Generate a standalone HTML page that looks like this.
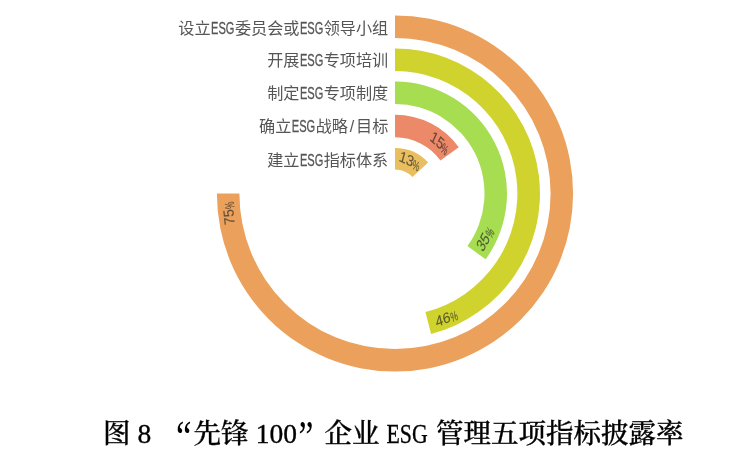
<!DOCTYPE html>
<html lang="zh-CN"><head><meta charset="utf-8"><title>图 8 “先锋 100”企业 ESG 管理五项指标披露率</title>
<style>
html,body{margin:0;padding:0;background:#fff;}
body{width:731px;height:465px;overflow:hidden;position:relative;}
svg{position:absolute;left:0;top:0;display:block;}
text{dominant-baseline:central;}
.lab{font-family:"Liberation Sans","Noto Sans CJK SC",sans-serif;font-size:16.15px;fill:#555;}
.pct{font-family:"Liberation Sans",sans-serif;font-size:14.5px;fill:#262626;fill-opacity:.68;stroke:#262626;stroke-opacity:.25;stroke-width:.3px;}
.pc{font-size:13px;}
.lat{stroke:#555;stroke-width:.3px;}
.title.q{font-size:44px;dominant-baseline:alphabetic;font-weight:400;stroke:none;}
.title{font-family:"Liberation Serif","Noto Serif CJK SC",serif;font-size:27.5px;fill:#000;font-weight:500;stroke:#000;stroke-width:.3px;}
</style></head><body>
<svg width="731" height="465" viewBox="0 0 731 465">
<defs>
<filter id="soft" x="-5%" y="-5%" width="110%" height="110%"><feGaussianBlur stdDeviation="0.45"/></filter>
<filter id="soft2" x="-5%" y="-20%" width="110%" height="140%"><feGaussianBlur stdDeviation="0.3"/></filter>
</defs>
<rect width="731" height="465" fill="#fff"/>
<g id="chart" filter="url(#soft)">
<g id="bars">
<path d="M395.00 15.40A178.1 178.1 0 1 1 216.90 193.50L239.40 193.50A155.6 155.6 0 1 0 395.00 37.90Z" fill="#eba15b"/>
<path d="M395.00 48.50A145.0 145.0 0 0 1 431.06 333.94L425.44 312.05A122.4 122.4 0 0 0 395.00 71.10Z" fill="#d0d32e"/>
<path d="M395.00 81.50A112.0 112.0 0 0 1 485.61 259.33L467.41 246.11A89.5 89.5 0 0 0 395.00 104.00Z" fill="#a6dd51"/>
<path d="M395.00 114.70A78.8 78.8 0 0 1 458.75 147.18L440.47 160.47A56.2 56.2 0 0 0 395.00 137.30Z" fill="#ec8968"/>
<path d="M395.00 148.10A45.4 45.4 0 0 1 428.10 162.42L412.50 177.07A24.0 24.0 0 0 0 395.00 169.50Z" fill="#e8be5f"/>
</g>
<g id="labels">
<text x="178.35" y="28.4" class="lab">设立</text>
<text x="211.05" y="28.4" class="lab lat" textLength="23.42" lengthAdjust="spacingAndGlyphs">ESG</text>
<text x="234.88" y="28.4" class="lab">委员会或</text>
<text x="299.88" y="28.4" class="lab lat" textLength="23.42" lengthAdjust="spacingAndGlyphs">ESG</text>
<text x="323.70" y="28.4" class="lab">领导小组</text>
<text x="267.18" y="59.8" class="lab">开展</text>
<text x="299.88" y="59.8" class="lab lat" textLength="23.42" lengthAdjust="spacingAndGlyphs">ESG</text>
<text x="323.70" y="59.8" class="lab">专项培训</text>
<text x="267.18" y="93.0" class="lab">制定</text>
<text x="299.88" y="93.0" class="lab lat" textLength="23.42" lengthAdjust="spacingAndGlyphs">ESG</text>
<text x="323.70" y="93.0" class="lab">专项制度</text>
<text x="259.10" y="126.2" class="lab">确立</text>
<text x="291.80" y="126.2" class="lab lat" textLength="23.42" lengthAdjust="spacingAndGlyphs">ESG</text>
<text x="315.63" y="126.2" class="lab">战略</text>
<text x="351.96" y="126.2" class="lab" text-anchor="middle">/</text>
<text x="356.00" y="126.2" class="lab">目标</text>
<text x="267.18" y="159.6" class="lab">建立</text>
<text x="299.88" y="159.6" class="lab lat" textLength="23.42" lengthAdjust="spacingAndGlyphs">ESG</text>
<text x="323.70" y="159.6" class="lab">指标体系</text>
</g>
<g id="values">
<g transform="translate(229.0 212.9) rotate(-96.7)"><text transform="translate(-12.0 -0.6) skewX(0.0) scale(0.97 1)" class="pct">75</text><text transform="translate(3.7 1.1) skewX(0.0) scale(0.63 1)" class="pct pc">%</text></g>
<g transform="translate(446.9 318.1) rotate(-22.6)"><text transform="translate(-12.0 -0.6) skewX(-9.5) scale(0.97 1)" class="pct">46</text><text transform="translate(3.7 1.1) skewX(-9.5) scale(0.63 1)" class="pct pc">%</text></g>
<g transform="translate(485.5 238.6) rotate(-63.0)"><text transform="translate(-12.0 -0.6) skewX(-20.0) scale(0.97 1)" class="pct">35</text><text transform="translate(3.7 1.1) skewX(-20.0) scale(0.63 1)" class="pct pc">%</text></g>
<g transform="translate(440.0 143.4) rotate(42.0)"><text transform="translate(-12.0 -0.6) skewX(17.6) scale(0.97 1)" class="pct">15</text><text transform="translate(3.7 1.1) skewX(17.6) scale(0.63 1)" class="pct pc">%</text></g>
<g transform="translate(410.0 161.3) rotate(26.0)"><text transform="translate(-12.0 -0.6) skewX(10.9) scale(0.97 1)" class="pct">13</text><text transform="translate(3.7 1.1) skewX(10.9) scale(0.63 1)" class="pct pc">%</text></g>
</g>
</g>
<g id="caption" filter="url(#soft2)">
<text x="103.1" y="433.2" class="title">图</text>
<text x="137.4" y="433.2" class="title" style="font-weight:400;stroke:#000;stroke-width:.35px">8</text>
<text x="175.9" y="450.9" class="title q" textLength="15.5" lengthAdjust="spacingAndGlyphs">“</text>
<text x="193.45" y="433.2" class="title">先锋</text>
<text x="255.8" y="433.2" class="title" style="font-weight:400;stroke:#000;stroke-width:.35px">100</text>
<text x="298.4" y="450.9" class="title q" textLength="14.9" lengthAdjust="spacingAndGlyphs">”</text>
<text x="324.6" y="433.2" class="title">企业</text>
<text x="386.5" y="433.2" class="title" textLength="41.2" lengthAdjust="spacingAndGlyphs" style="font-weight:400;stroke:#000;stroke-width:.35px">ESG</text>
<text x="436.1" y="433.2" class="title">管理五项指标披露率</text>
</g>
</svg>
</body></html>
